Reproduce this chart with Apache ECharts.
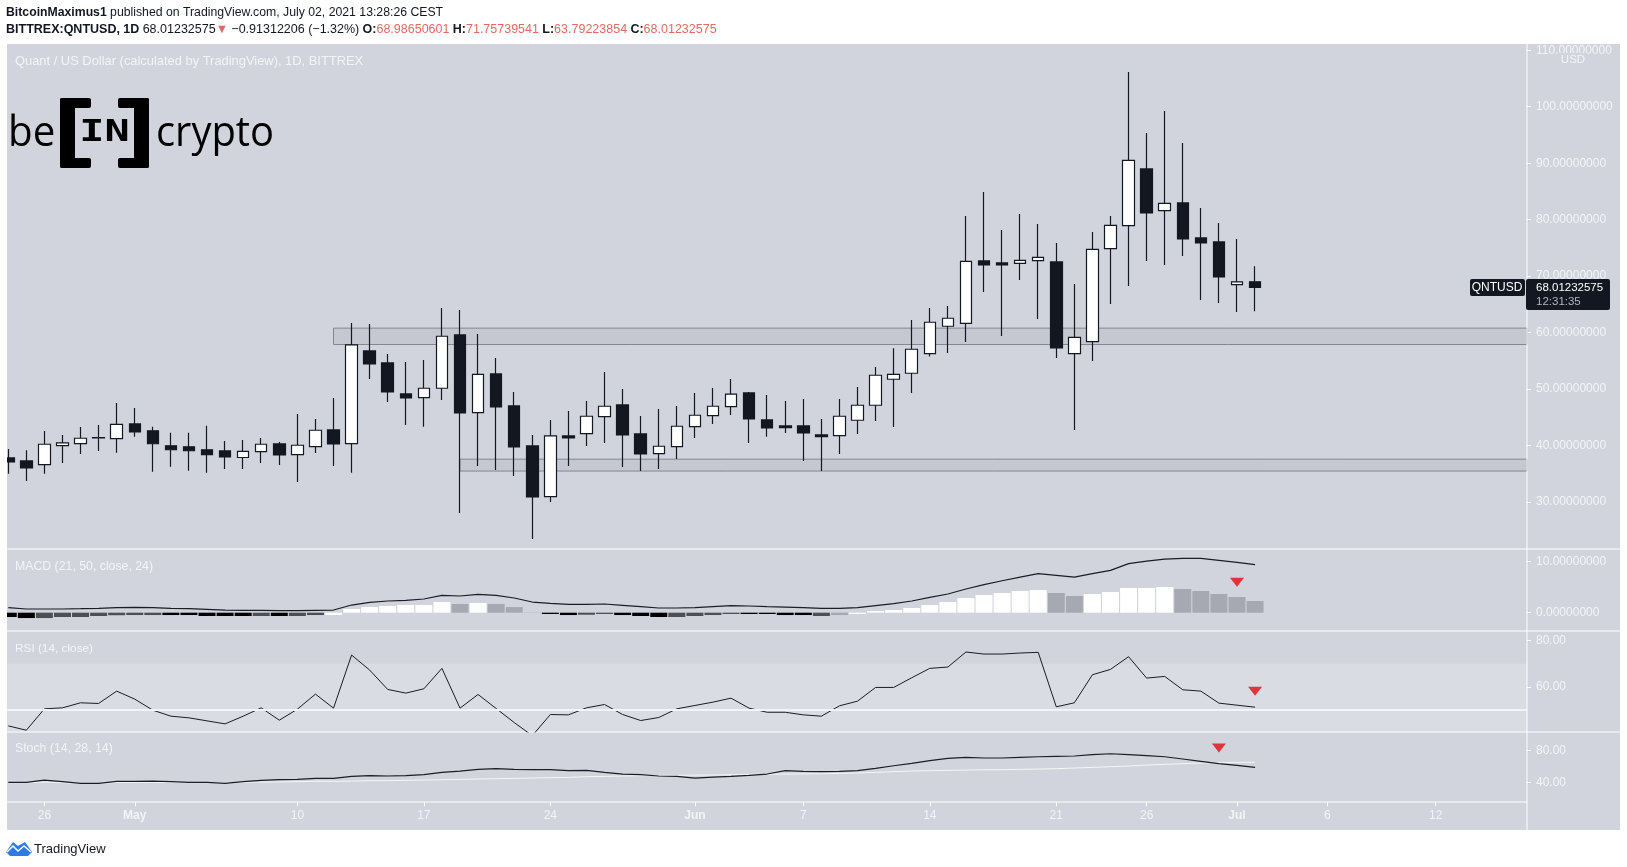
<!DOCTYPE html>
<html>
<head>
<meta charset="utf-8">
<title>QNTUSD</title>
<script src="https://cdn.jsdelivr.net/npm/echarts@6/dist/echarts.min.js"></script>
<style>
html,body{margin:0;padding:0;background:#fff;}
#main{width:1627px;height:867px;}
</style>
</head>
<body>
<div id="main"></div>
<script>
// CANDLES (one per day, Apr 24 to Jul 2)
const opens=[37.83,37.29,36.65,40.0,40.37,41.35,41.25,43.84,42.63,39.98,39.8,39.27,39.07,37.9,38.95,40.3,38.41,39.83,42.78,40.36,56.76,54.64,49.15,48.5,50.16,59.6,45.85,52.69,47.03,39.95,30.98,41.72,42.13,45.14,47.2,42.07,38.6,39.83,43.37,45.32,46.91,49.33,44.55,43.49,43.49,41.9,41.78,44.49,47.15,51.75,52.81,56.29,61.13,61.66,72.69,72.34,72.28,72.75,72.52,56.29,58.42,74.88,78.95,88.98,81.6,82.96,76.77,76.06,68.5,68.99];
const closes=[37.12,36.06,40.24,40.48,41.31,41.4,43.78,42.43,40.33,39.27,39.09,38.39,38.0,39.0,40.24,38.36,40.07,42.72,40.3,57.83,54.46,49.5,48.45,50.16,59.36,45.79,52.63,46.85,39.77,30.92,41.72,41.37,45.2,46.97,41.9,38.53,39.89,43.43,45.38,46.97,49.1,44.73,43.13,43.19,42.25,41.6,45.2,47.15,52.46,52.63,57.06,61.84,62.55,72.63,71.99,71.99,72.81,73.34,57.3,59.18,74.76,79.0,90.51,81.19,82.9,76.59,75.88,69.86,68.98,68.01];
const highs=[39.42,39.18,42.6,41.9,43.3,43.67,47.56,46.68,43.33,42.28,42.28,43.5,40.83,41.0,41.37,40.66,45.6,44.73,48.44,61.72,61.54,56.24,54.82,55.17,64.37,64.02,59.77,55.52,49.5,41.9,44.55,46.14,47.91,53.05,50.04,45.26,46.5,47.03,49.33,50.22,51.81,49.5,48.98,47.91,48.27,44.73,48.27,50.39,53.93,57.24,62.25,64.38,64.73,80.66,84.91,78.18,81.01,79.24,75.88,68.62,77.83,80.66,106.15,95.35,99.24,93.58,82.07,79.42,76.59,71.76];
const lows=[35.0,33.75,35.0,36.94,38.53,39.07,38.74,41.55,35.38,36.26,35.56,35.2,35.88,35.88,36.94,36.59,33.58,38.71,36.41,35.2,51.81,47.74,43.67,43.33,48.09,28.09,36.41,35.7,34.64,23.49,30.04,36.41,39.95,40.48,36.23,35.53,35.88,37.65,41.37,43.84,45.44,40.48,41.55,42.25,37.3,35.53,38.53,42.07,44.38,43.31,49.33,55.76,56.41,58.36,67.21,59.42,69.33,62.43,55.53,42.78,55.0,65.08,68.27,72.69,71.99,73.58,65.79,65.26,63.67,63.79];

// INDICATORS
const macdLine=[0.98,0.72,0.72,0.72,0.78,0.85,0.98,1.05,0.98,0.85,0.78,0.65,0.52,0.46,0.46,0.39,0.39,0.46,0.52,1.5,2.03,2.29,2.42,2.68,3.4,3.27,3.59,3.4,2.88,2.09,1.83,1.63,1.63,1.7,1.44,1.18,0.92,0.92,0.98,1.18,1.37,1.31,1.18,1.11,0.98,0.85,0.85,0.98,1.37,1.76,2.29,3.0,3.66,4.64,5.49,6.27,6.99,7.65,7.32,6.99,7.65,8.3,9.61,10.13,10.52,10.65,10.65,10.26,9.87,9.41];
const macdHist=[-0.85,-1.05,-1.05,-0.85,-0.85,-0.65,-0.5,-0.46,-0.46,-0.46,-0.46,-0.65,-0.65,-0.65,-0.65,-0.65,-0.65,-0.46,-0.46,0.72,1.11,1.31,1.5,1.5,2.09,1.7,1.9,1.7,1.11,0.05,-0.26,-0.46,-0.4,-0.26,-0.46,-0.65,-0.85,-0.85,-0.65,-0.46,-0.26,-0.26,-0.26,-0.46,-0.46,-0.65,-0.46,-0.26,0.33,0.52,0.92,1.5,2.09,2.88,3.46,3.86,4.25,4.44,3.86,3.27,3.66,4.05,4.84,4.84,5.03,4.64,4.25,3.66,3.07,2.29];
const histTone='kkdddddddkkkkkdkddwwwwwwwgwgggkkddkkkddddkkkkdgwwwwwwwwwwwggwwwwwggggg'.split('');
const rsiLine=[43.06,41.17,50.45,50.88,53.06,52.77,58.13,54.65,49.87,47.26,46.54,45.23,43.93,47.26,50.88,45.52,50.3,56.83,50.74,73.78,67.26,58.86,57.26,59.14,68.0,50.74,56.68,50.59,44.51,38.8,47.98,47.84,50.88,52.33,47.98,45.38,46.68,50.45,51.9,53.35,55.08,50.74,48.96,48.96,47.84,47.26,51.75,53.78,59.72,59.72,63.93,68.0,68.56,75.08,74.2,74.2,74.65,74.94,51.32,53.06,65.23,67.55,73.06,63.78,64.5,58.71,58.13,52.91,52.04,51.17];
const stochK=[39.95,39.95,42.9,40.8,38.7,38.7,41.2,41.2,41.6,40.8,39.95,39.95,38.7,40.8,42.5,43.3,43.7,45.0,45.0,47.5,48.4,48.0,48.4,49.65,52.6,54.3,56.4,57.25,56.4,56.0,56.0,54.7,55.1,52.6,50.5,49.65,48.0,47.5,45.4,46.7,47.5,48.8,50.5,54.7,53.9,53.5,53.9,54.7,57.7,61.0,64.0,67.4,70.3,71.6,70.8,70.8,71.6,72.4,72.9,73.3,75.0,76.2,75.0,73.7,72.4,69.5,66.5,63.6,61.5,58.9];
const stochD=[39.5,39.5,40.4,39.5,38.7,38.7,39.95,39.95,39.95,39.95,39.5,39.5,39.1,39.95,40.4,40.4,40.8,41.2,41.2,41.6,42.1,42.1,42.5,42.9,43.3,43.7,44.2,44.6,45.0,45.4,45.9,46.3,47.1,47.5,48.0,48.4,48.8,48.8,49.2,49.2,49.65,50.1,50.1,50.5,50.5,50.9,51.3,51.8,52.6,53.5,54.3,54.7,55.1,55.5,56,56,56.4,56.8,57.25,58.1,58.9,59.8,60.6,61.9,62.7,63.6,64.4,64.9,65.3,65.3];

// ZONES [from day, top, bottom]
const zoneHigh=[18,60.8,57.9];
const zoneLow=[25,37.6,35.5];

// RED ARROWS [day, value]
const macdArrow=[68,5.96];
const rsiArrow=[69,58.1];
const stochArrow=[67,83.4];

// AXIS TICKS
const xTickDays=[2,7,16,23,30,38,44,51,58,63,68,73,79];
const xTickText=['26','May','10','17','24','Jun','7','14','21','26','Jul','6','12'];
const priceTicks=[30,40,50,60,70,80,90,100,110];
const macdTicks=[0,10];
const rsiTicks=[60,80];
const stochTicks=[40,80];

const PANEL='#d1d4dc', INK='#131722', SOFT='#f3f4f7', RED='#dd6b66';
const FONT='"Liberation Sans"';
const xMin=-0.07, xMax=84.05;

const tones={k:'#000000',d:'#4c4f56',w:'#ffffff',g:'#a6a9b2'};
const days=opens.map((v,i)=>i);
const pair=arr=>arr.map((v,i)=>[i,v]);

function xAxisFor(idx,showLabels){
  return {
    type:'value',gridIndex:idx,min:xMin,max:xMax,
    splitLine:{show:false},axisLine:{show:false,onZero:false},
    axisTick:{show:showLabels,length:4,inside:false,lineStyle:{color:'#fff'},customValues:xTickDays},
    axisLabel:{
      show:showLabels,customValues:xTickDays,margin:8,
      formatter:v=>{
        const t=xTickText[xTickDays.indexOf(v)];
        return /[A-Z]/.test(t)?'{m|'+t+'}':t;
      },
      color:SOFT,fontFamily:FONT,fontSize:12,
      rich:{m:{fontWeight:'bold',color:SOFT,fontFamily:FONT,fontSize:12}}
    }
  };
}
function yAxisFor(idx,min,max,ticks,digits){
  return {
    type:'value',gridIndex:idx,position:'right',min:min,max:max,scale:true,
    splitLine:{show:false},axisLine:{show:false,onZero:false},
    axisTick:{show:true,length:4,lineStyle:{color:'#fff'},customValues:ticks},
    axisLabel:{customValues:ticks,margin:9,color:SOFT,fontFamily:FONT,fontSize:12,
      formatter:v=>v.toFixed(digits)}
  };
}
function lineOf(name,idx,values,color,width){
  return {name:name,type:'line',xAxisIndex:idx,yAxisIndex:idx,data:pair(values),showSymbol:false,
    lineStyle:{color:color,width:width},itemStyle:{color:color},z:4,silent:true};
}
function arrowOf(name,idx,point){
  return {name:name,type:'scatter',xAxisIndex:idx,yAxisIndex:idx,data:[point],symbol:'triangle',
    symbolRotate:180,symbolSize:[14,9],itemStyle:{color:'#e60a12'},z:6,silent:true};
}
function zoneArea(z){
  return [{xAxis:z[0],yAxis:z[1]},{xAxis:xMax,yAxis:z[2]}];
}

const sepLine=(y,x2)=>({type:'line',z:3,silent:true,shape:{x1:7,y1:y,x2:x2,y2:y},style:{stroke:'#fff',lineWidth:1}});
const label=(x,y,text,size)=>({type:'text',z:5,x:x,y:y,silent:true,style:{text:text,fill:SOFT,font:(size||12.3)+'px '+FONT,verticalAlign:'middle'}});
const blk=(x,y,w,h,r)=>({type:'rect',z:5,silent:true,shape:{x:x,y:y,width:w,height:h,r:r||0},style:{fill:'#000'}});

const graphics=[
  // panel behind everything
  {type:'rect',z:-1,silent:true,shape:{x:7,y:44,width:1613,height:786},style:{fill:PANEL}},
  sepLine(549,1620),sepLine(631,1620),sepLine(732,1620),sepLine(802,1527),
  {type:'line',z:3,silent:true,shape:{x1:1527,y1:44,x2:1527,y2:830},style:{stroke:'#fff',lineWidth:1}},
  // first candle and bar are cut at the pane edge
  {type:'rect',z:10,silent:true,shape:{x:0,y:44,width:7,height:786},style:{fill:'#fff'}},

  // header
  {type:'text',z:5,x:6,y:13,silent:true,style:{
    text:'{b|BitcoinMaximus1} {n|published on TradingView.com, July 02, 2021 13:28:26 CEST}',
    verticalAlign:'middle',
    rich:{b:{font:'bold 12.25px '+FONT,fill:INK},n:{font:'12.25px '+FONT,fill:INK}}}},
  {type:'text',z:5,x:6,y:30,silent:true,style:{
    text:'{b|BITTREX:QNTUSD, 1D} {n|68.01232575}{r|▼} {n|−0.91312206 (−1.32%)} {b|O:}{r|68.98650601} {b|H:}{r|71.75739541} {b|L:}{r|63.79223854} {b|C:}{r|68.01232575}',
    verticalAlign:'middle',
    rich:{b:{font:'bold 12.5px '+FONT,fill:INK},n:{font:'12.5px '+FONT,fill:INK},r:{font:'12.5px '+FONT,fill:RED}}}},

  // pane titles
  label(15,61,'Quant / US Dollar (calculated by TradingView), 1D, BITTREX',12.9),
  label(15,567,'MACD (21, 50, close, 24)'),
  label(15,649,'RSI (14, close)',11.8),
  label(15,749,'Stoch (14, 28, 14)'),

  // beincrypto logo
  blk(60,98,31,10,2),blk(60,98,15,70,2),blk(60,158,31,10,2),
  blk(118,98,31,10,2),blk(134,98,15,70,2),blk(118,158,31,10,2),
  {type:'text',z:5,x:8,y:134,scaleX:0.96,silent:true,style:{text:'be',fill:'#000',font:'42px "Open Sans"',verticalAlign:'middle'}},
  {type:'text',z:5,x:156,y:134,scaleX:0.95,silent:true,style:{text:'crypto',fill:'#000',font:'42px "Open Sans"',verticalAlign:'middle'}},
  {type:'text',z:5,x:104.5,y:133,scaleX:1.35,silent:true,style:{text:'IN',fill:'#000',font:'bold 31px "DejaVu Sans Mono"',align:'center',verticalAlign:'middle'}},

  // USD corner label, sits over the 110 tick
  {type:'rect',z:5,silent:true,shape:{x:1559,y:53,width:28,height:15},style:{fill:PANEL}},
  {type:'text',z:6,x:1573,y:60,silent:true,style:{text:'USD',fill:SOFT,font:'11.5px '+FONT,align:'center',verticalAlign:'middle'}},

  // last price tags
  {type:'rect',z:5,silent:true,shape:{x:1470,y:279,width:55,height:17,r:2},style:{fill:INK}},
  {type:'text',z:6,x:1497,y:287.5,silent:true,style:{text:'QNTUSD',fill:'#fff',font:'12px '+FONT,align:'center',verticalAlign:'middle'}},
  {type:'rect',z:5,silent:true,shape:{x:1526,y:279,width:84,height:31,r:2},style:{fill:INK}},
  {type:'text',z:6,x:1536,y:288,silent:true,style:{text:'68.01232575',fill:'#fff',font:'11.5px '+FONT,verticalAlign:'middle'}},
  {type:'text',z:6,x:1536,y:302,silent:true,style:{text:'12:31:35',fill:'#b2b5be',font:'11.5px '+FONT,verticalAlign:'middle'}},

  // tradingview footer
  {type:'polygon',z:5,silent:true,shape:{points:[[6,852],[13,842],[18,846],[25,842],[32,852],[28,856],[10,856]]},style:{fill:'#2e7be6'}},
  {type:'polyline',z:6,silent:true,shape:{points:[[7,852],[13,846],[18,851],[24,846],[31,852]]},style:{stroke:'#fff',lineWidth:1.5,fill:null}},
  {type:'text',z:5,x:34,y:849,silent:true,style:{text:'TradingView',fill:INK,font:'13px '+FONT,verticalAlign:'middle'}}
];

const chart=echarts.init(document.getElementById('main'),null,{renderer:'canvas'});
chart.setOption({
  animation:false,
  backgroundColor:'#ffffff',
  graphic:{elements:graphics},
  grid:[
    {left:7,top:44,width:1520,height:505},
    {left:7,top:549,width:1520,height:82},
    {left:7,top:631,width:1520,height:101},
    {left:7,top:732,width:1520,height:70}
  ],
  xAxis:[xAxisFor(0,false),xAxisFor(1,false),xAxisFor(2,false),xAxisFor(3,true)],
  yAxis:[
    yAxisFor(0,21.7,111.1,priceTicks,8),
    yAxisFor(1,-3.59,12.49,macdTicks,8),
    yAxisFor(2,40.4,84.2,rsiTicks,2),
    yAxisFor(3,15.1,103.7,stochTicks,2)
  ],
  series:[
    {
      name:'QNTUSD',type:'candlestick',xAxisIndex:0,yAxisIndex:0,barWidth:12,silent:true,z:3,
      encode:{x:0,y:[1,2,3,4]},
      data:days.map(i=>[i,opens[i],closes[i],lows[i],highs[i]]),
      itemStyle:{color:'#ffffff',color0:INK,borderColor:INK,borderColor0:INK,borderWidth:1.2},
      markArea:{
        silent:true,
        itemStyle:{color:'#c5c8d1',borderColor:'#85878f',borderWidth:1},
        data:[zoneArea(zoneHigh),zoneArea(zoneLow)]
      }
    },
    {
      name:'Histogram',type:'bar',xAxisIndex:1,yAxisIndex:1,barWidth:17,silent:true,z:2,
      data:macdHist.map((v,i)=>({value:[i,v],itemStyle:{color:tones[histTone[i]]}}))
    },
    lineOf('MACD',1,macdLine,'#1a1d24',1.2),
    arrowOf('MACD arrow',1,macdArrow),
    Object.assign(lineOf('RSI',2,rsiLine,'#1a1d24',1),{
      markArea:{silent:true,itemStyle:{color:'#d9dce2'},data:[[{xAxis:xMin,yAxis:70},{xAxis:xMax,yAxis:40.4}]]},
      markLine:{silent:true,symbol:'none',label:{show:false},lineStyle:{color:'#f3f4f6',width:2,type:'solid'},data:[{yAxis:50}]}
    }),
    arrowOf('RSI arrow',2,rsiArrow),
    lineOf('Stoch D',3,stochD,'#f5f6f8',1),
    lineOf('Stoch K',3,stochK,'#1a1d24',1.2),
    arrowOf('Stoch arrow',3,stochArrow)
  ]
});
</script>
</body>
</html>
